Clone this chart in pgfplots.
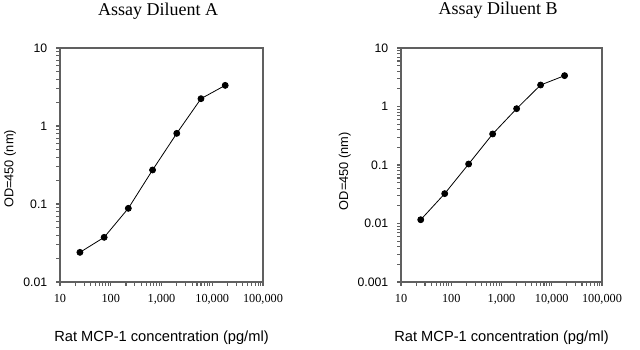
\documentclass[border=0pt]{standalone}
\usepackage{fontspec}
\setmainfont{Liberation Serif}
\newfontfamily\arial{Liberation Sans}
\usepackage{pgfplots}
\pgfplotsset{compat=1.18}
\definecolor{axgray}{HTML}{606060}
\begin{document}
\begin{tikzpicture}
\path[use as bounding box] (0,0) rectangle (480pt,262.5pt);
\begin{axis}[
  scale only axis,
  xmode=log, ymode=log,
  at={(45pt,51pt)}, anchor=south west,
  width=152.25pt, height=175.5pt,
  xmin=10, xmax=100000,
  ymin=0.01, ymax=10,
  xtick={10,100,1000,10000,100000},
  xticklabels={10,100,{1,000},{10,000},{100,000}},
  ytick={0.01,0.1,1,10},
  yticklabels={0.01,0.1,1,10},
  tick pos=left,
  tick align=outside,
  major tick length=3pt,
  minor tick num=0,
  axis line style={axgray, line width=0.8pt},
  every tick/.style={axgray, line width=0.8pt},
  x tick label style={font=\fontsize{9.2}{10}\selectfont, yshift=-3pt},
  y tick label style={font=\arial\fontsize{9.2}{10}\selectfont, xshift=-3pt},
  title style={font=\fontsize{13.5}{15}\selectfont, anchor=base, at={(0.5,1)}, yshift=18.75pt, xshift=-2.6pt},
  xlabel style={font=\arial\fontsize{11}{13}\selectfont, anchor=base, at={(0.5,0)}, yshift=-44.6pt},
  ylabel style={font=\arial\fontsize{9.6}{12}\selectfont, at={(axis description cs:-0.246,0.483)}, anchor=center},
  ylabel={OD=450 (nm)},
  xlabel={Rat MCP-1 concentration (pg/ml)},
  title={Assay Diluent A},
]
\addplot[black, line width=0.6pt, mark=*, mark size=2.25pt, mark options={fill=black}] coordinates {
(24.7,0.024) (74.1,0.0374) (222,0.088) (667,0.273) (2000,0.805) (6000,2.24) (18000,3.32)
};
\end{axis}
\begin{axis}[
  scale only axis,
  xmode=log, ymode=log,
  at={(300.75pt,51pt)}, anchor=south west,
  width=150.75pt, height=175.5pt,
  xmin=10, xmax=100000,
  ymin=0.001, ymax=10,
  xtick={10,100,1000,10000,100000},
  xticklabels={10,100,{1,000},{10,000},{100,000}},
  ytick={0.001,0.01,0.1,1,10},
  yticklabels={0.001,0.01,0.1,1,10},
  tick pos=left,
  tick align=outside,
  major tick length=3pt,
  minor tick num=0,
  axis line style={axgray, line width=0.8pt},
  every tick/.style={axgray, line width=0.8pt},
  x tick label style={font=\fontsize{9.2}{10}\selectfont, yshift=-3pt},
  y tick label style={font=\arial\fontsize{9.2}{10}\selectfont, xshift=-3pt},
  title style={font=\fontsize{13.5}{15}\selectfont, anchor=base, at={(0.5,1)}, yshift=18.75pt, xshift=-2.6pt},
  xlabel style={font=\arial\fontsize{11}{13}\selectfont, anchor=base, at={(0.5,0)}, yshift=-44.6pt},
  ylabel style={font=\arial\fontsize{9.6}{12}\selectfont, at={(axis description cs:-0.279,0.474)}, anchor=center},
  ylabel={OD=450 (nm)},
  xlabel={Rat MCP-1 concentration (pg/ml)},
  title={Assay Diluent B},
]
\addplot[black, line width=0.6pt, mark=*, mark size=2.25pt, mark options={fill=black}] coordinates {
(24.7,0.0116) (74.1,0.0324) (222,0.104) (667,0.339) (2000,0.918) (6000,2.33) (18000,3.37)
};
\end{axis}
\end{tikzpicture}
\end{document}
